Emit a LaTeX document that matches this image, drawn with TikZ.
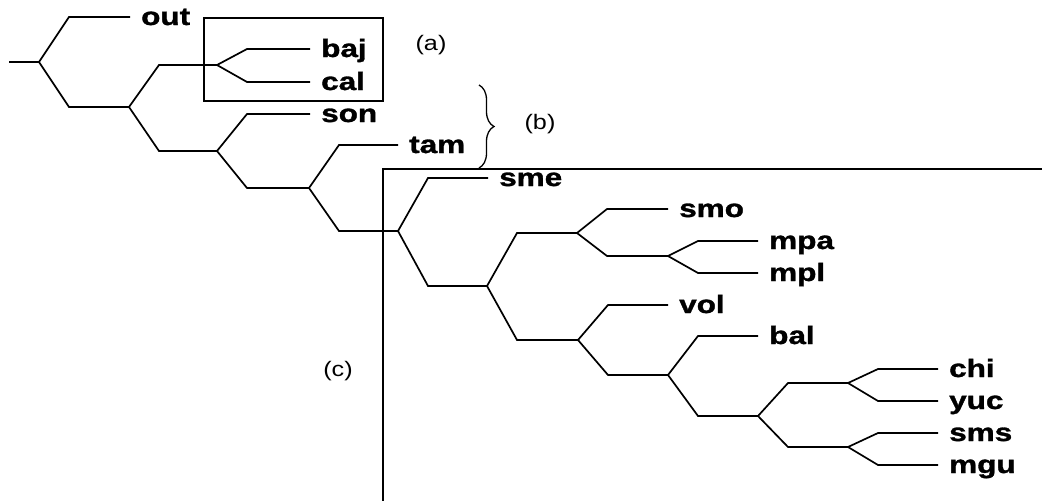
\documentclass[tikz,border=0pt]{standalone}
\usepackage{fontspec}
\setmainfont{Liberation Sans}
\newfontfamily\taxonfont[FakeBold=1.2]{Liberation Sans Bold}
\usetikzlibrary{decorations.pathreplacing}
\newcommand\widetext[2]{\scalebox{#1}[1]{#2}}
\begin{document}
\begin{tikzpicture}[x=1pt,y=-1pt,
  treeline/.style={line width=1.7pt},
  boxline/.style={line width=1.4pt},
  branch/.style={to path={-- ([xshift=30pt]\tikztostart |- \tikztotarget) -- (\tikztotarget)}},
  taxon/.style={anchor=base west,yshift=-8pt,inner xsep=11pt,inner ysep=0pt,font=\fontsize{25}{25}\selectfont\taxonfont},
  tag/.style={anchor=center,inner sep=0pt,font=\fontsize{21}{21}\selectfont}]
\useasboundingbox (0,0) rectangle (1042,501);

% internal nodes
\coordinate (r0) at (9,62);
\coordinate (n0) at (39,62);
\coordinate (n1) at (129,107);
\coordinate (n2) at (217,65);
\coordinate (n3) at (217,151);
\coordinate (n4) at (309,188);
\coordinate (n5) at (398,231);
\coordinate (n6) at (487,286);
\coordinate (n7) at (577,233);
\coordinate (n8) at (578,340);
\coordinate (n9) at (668,256);
\coordinate (n10) at (668,375);
\coordinate (n11) at (758,416);
\coordinate (n12) at (848,383);
\coordinate (n13) at (848,447);

% leaf tips
\coordinate (tout) at (130,17);
\coordinate (tbaj) at (310,49);
\coordinate (tcal) at (310,82);
\coordinate (tson) at (310,114);
\coordinate (ttam) at (398,145);
\coordinate (tsme) at (488,178);
\coordinate (tsmo) at (668,209);
\coordinate (tmpa) at (758,241);
\coordinate (tmpl) at (758,273);
\coordinate (tvol) at (668,305);
\coordinate (tbal) at (758,336);
\coordinate (tchi) at (938,369);
\coordinate (tyuc) at (938,401);
\coordinate (tsms) at (938,433);
\coordinate (tmgu) at (938,465);

% taxon labels
\foreach \t in {out,baj,cal,son,tam,sme,smo,mpa,mpl,vol,bal,chi,yuc,sms,mgu}
  \node[taxon] (\t) at (t\t) {\widetext{1.26}{\t}};

% tree
\draw[treeline] (r0) -- (n0);
\draw[treeline] (n0) to[branch] (tout) (n0) to[branch] (n1);
\draw[treeline] (n1) to[branch] (n2) (n1) to[branch] (n3);
\draw[treeline] (n2) to[branch] (tbaj) (n2) to[branch] (tcal);
\draw[treeline] (n3) to[branch] (tson) (n3) to[branch] (n4);
\draw[treeline] (n4) to[branch] (ttam) (n4) to[branch] (n5);
\draw[treeline] (n5) to[branch] (tsme) (n5) to[branch] (n6);
\draw[treeline] (n6) to[branch] (n7) (n6) to[branch] (n8);
\draw[treeline] (n7) to[branch] (tsmo) (n7) to[branch] (n9);
\draw[treeline] (n9) to[branch] (tmpa) (n9) to[branch] (tmpl);
\draw[treeline] (n8) to[branch] (tvol) (n8) to[branch] (n10);
\draw[treeline] (n10) to[branch] (tbal) (n10) to[branch] (n11);
\draw[treeline] (n11) to[branch] (n12) (n11) to[branch] (n13);
\draw[treeline] (n12) to[branch] (tchi) (n12) to[branch] (tyuc);
\draw[treeline] (n13) to[branch] (tsms) (n13) to[branch] (tmgu);

% group (a): box
\coordinate (aTL) at (204,18);
\coordinate (aBR) at (383,101);
\draw[boxline] (aTL) rectangle (aBR);
\node[tag] (la) at (431,45) {\widetext{1.2}{(a)}};

% group (b): brace
\coordinate (bTop) at (479,85);
\coordinate (bBot) at (479,168);
\draw[line width=1.3pt,decorate,decoration={brace,amplitude=15pt}] (bTop) -- (bBot);
\node[tag] (lb) at (540,124) {\widetext{1.2}{(b)}};

% group (c): open frame
\coordinate (cR) at (1042,169);
\coordinate (cC) at (383,169);
\coordinate (cB) at (383,501);
\draw[boxline] (cR) -- (cC) -- (cB);
\node[tag] (lc) at (338,371) {\widetext{1.2}{(c)}};
\end{tikzpicture}
\end{document}
